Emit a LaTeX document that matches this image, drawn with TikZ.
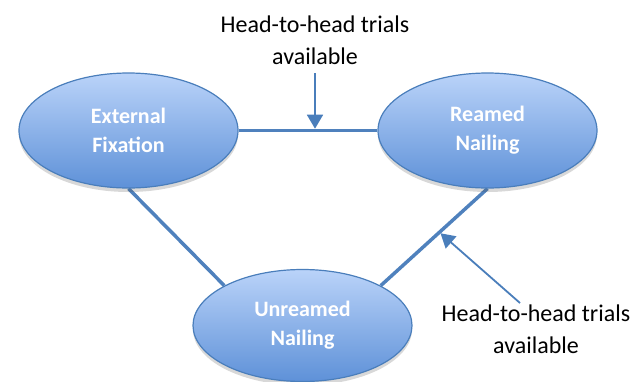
\documentclass[tikz,border=0pt]{standalone}
\usepackage{fontspec}
\setmainfont{Carlito}
\usetikzlibrary{shapes.geometric,arrows.meta,calc,shadows,backgrounds}
\definecolor{edgeblue}{RGB}{74,126,187}
\definecolor{linkblue}{RGB}{79,129,189}
\definecolor{topblue}{RGB}{186,211,249}
\definecolor{botblue}{RGB}{94,145,216}
\begin{document}
\begin{tikzpicture}[x=1pt,y=-1pt,
  state/.style={ellipse, draw=edgeblue, line width=1.2pt, top color=topblue, bottom color=botblue,
    minimum width=219pt, minimum height=115pt, inner sep=0pt, align=center, text=white,
    font=\fontsize{22}{29}\selectfont\bfseries,
    drop shadow={shadow xshift=0pt, shadow yshift=-4pt, opacity=0.22, fill=black!70}},
  link/.style={draw=linkblue, line width=3.5pt},
  note/.style={align=center, font=\fontsize{24}{32}\selectfont, text=black, inner sep=0pt},
  pointer/.style={draw=edgeblue, line width=1.8pt, -{Triangle[width=16pt,length=14pt]}}]
\useasboundingbox (0,0) rectangle (641,381);
\node[state] (ef) at (128.5,130.5) {External\\Fixation};
\node[state] (rn) at (487.5,130.5) {Reamed\\Nailing};
\node[state, minimum height=112pt] (un) at (302.5,325.5) {Unreamed\\Nailing};
\begin{pgfonlayer}{background}
\draw[link] (ef.east) -- (rn.west);
\draw[link] (ef.south) -- (un.153);
\draw[link] (un.27) -- (rn.south);
\end{pgfonlayer}
\node[note] (t1) at (315,40) {Head-to-head trials\\available};
\node[note] (t2) at (536,329) {Head-to-head trials\\available};
\coordinate (p1) at (315,73);
\draw[pointer, shorten >=1.8pt] (p1) -- (p1 |- ef.east);
\coordinate (p2) at (520,303);
\coordinate (h2) at ($(un.27)!0.55!(rn.south)$);
\draw[pointer, shorten >=1.5pt] (p2) -- (h2);
\end{tikzpicture}
\end{document}
